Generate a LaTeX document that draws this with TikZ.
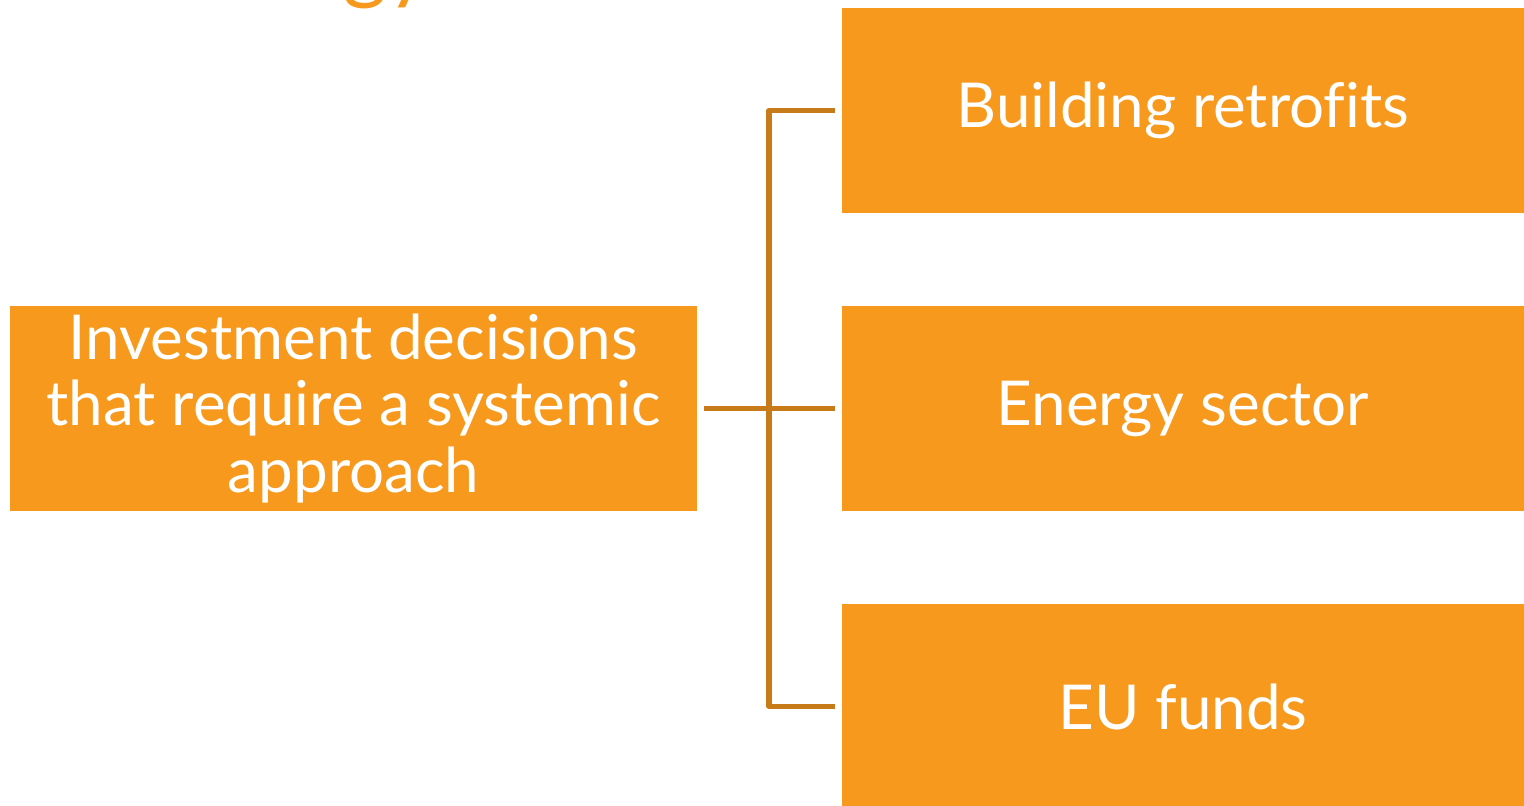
\documentclass[tikz,border=0pt]{standalone}
\usepackage{fontspec}
\setmainfont[Ligatures=NoCommon]{Lato}
\usepackage{tikz}
\definecolor{boxorange}{HTML}{F7991D}
\definecolor{linkorange}{HTML}{C77A18}
\tikzset{every picture/.style={x=0.01cm, y=-0.01cm}}
\tikzset{topic/.style={fill=boxorange, text=white, inner sep=0pt,
  minimum width=6.82cm, minimum height=2.05cm,
  font=\fontsize{17.6}{18.8}\selectfont, align=center}}
\tikzset{link/.style={draw=linkorange, line width=1.5pt, line join=round}}

\begin{document}
\begin{tikzpicture}
\useasboundingbox (0,0) rectangle (1524,806);
\clip (0,0) rectangle (1524,806);
% title, cut off at the top
\node[anchor=base west, inner sep=0pt, text=boxorange,
  font=\fontsize{24}{26}\selectfont] (title) at (343,-6) {gy};
% boxes
\node[topic, minimum width=6.87cm] (main) at (353.5,408.5)
  {Investment decisions\\that require a systemic\\approach};
\node[topic] (retro) at (1183,110.5) {Building retrofits};
\node[topic] (energy) at (1183,408.5) {Energy sector};
\node[topic] (funds) at (1183,706.5) {EU funds};
\coordinate (fork) at (769,408.5);
% connectors
\draw[link, shorten <=0.06cm, shorten >=0.06cm] (main.east) -- (energy.west);
\draw[link, shorten <=0.06cm, shorten >=0.06cm] (retro.west) -| (fork) |- (funds.west);
\end{tikzpicture}
\end{document}
